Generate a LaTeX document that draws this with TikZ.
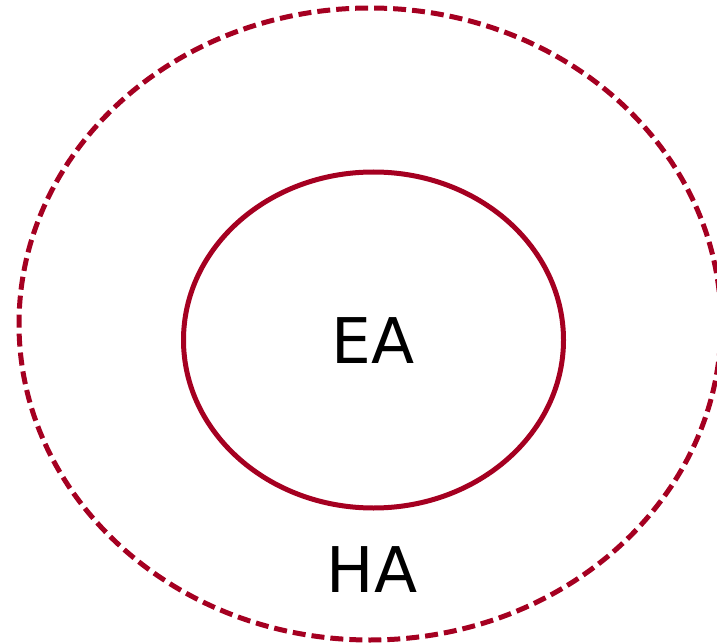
\documentclass[tikz,border=0pt]{standalone}
\usepackage{fontspec}
\setmainfont{DejaVu Sans}
\definecolor{areared}{HTML}{A50021}

\begin{document}
\begin{tikzpicture}[
    x=1pt, y=-1pt,
    region/.style={draw=areared,line width=5pt},
    outer/.style={region,dash pattern=on 13pt off 6pt},
    label/.style={font=\fontsize{63}{70}\selectfont,inner sep=0pt}
]
\path[use as bounding box] (0,0) rectangle (717,644);

% outer (dashed) and inner (solid) areas
\draw[outer] (370,324) ellipse [x radius=351, y radius=316];
\draw[region] (373.5,340) ellipse [x radius=190, y radius=168];

\node[label] (ea) at (373,341) {EA};
\node[label] (ha) at (372,570) {HA};
\end{tikzpicture}
\end{document}
